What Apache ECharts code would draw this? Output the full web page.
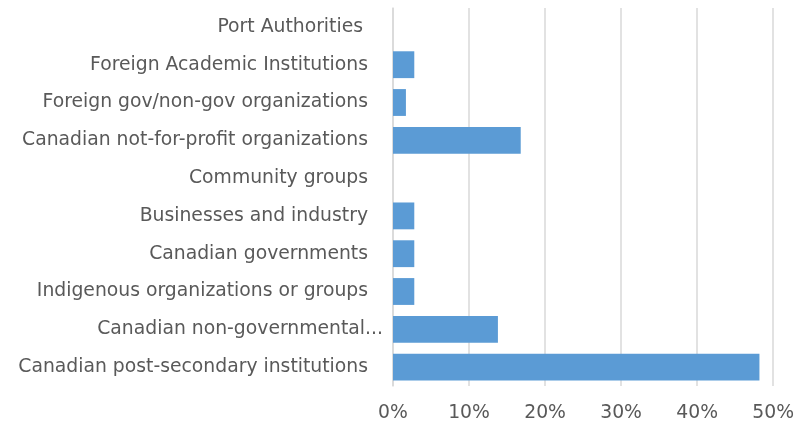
<!DOCTYPE html>
<html>
<head>
<meta charset="utf-8">
<script src="https://cdn.jsdelivr.net/npm/echarts@6/dist/echarts.min.js"></script>
<style>
html,body{margin:0;padding:0;background:#fff;}
#chart{width:797px;height:426px;}
</style>
</head>
<body>
<div id="chart"></div>
<script>
// Categories listed bottom to top
const categories = [
  "Canadian post-secondary institutions",
  "Canadian non-governmental...",
  "Indigenous organizations or groups",
  "Canadian governments",
  "Businesses and industry",
  "Community groups",
  "Canadian not-for-profit organizations",
  "Foreign gov/non-gov organizations",
  "Foreign Academic Institutions",
  "Port Authorities"
];
const values = [48.2, 13.8, 2.8, 2.8, 2.8, 0, 16.8, 1.7, 2.8, 0];
const xTicks = [0, 10, 20, 30, 40, 50];

const FONT = 'DejaVu Sans';
const FS = 18.8;
const chart = echarts.init(document.getElementById('chart'));
chart.setOption({
  animation: false,
  grid: { left: 393, right: 23, top: 8, bottom: 40, containLabel: false },
  xAxis: {
    type: 'value',
    min: xTicks[0],
    max: xTicks[xTicks.length - 1],
    interval: 10,
    axisLine: { show: false },
    axisTick: { show: false },
    splitLine: { show: true, lineStyle: { color: '#d9d9d9', width: 1.5 } },
    axisLabel: {
      formatter: '{value}%',
      color: '#595959',
      fontFamily: FONT,
      fontSize: FS,
      margin: 18
    }
  },
  yAxis: {
    type: 'category',
    data: categories,
    axisLine: { show: true, lineStyle: { color: '#d9d9d9', width: 1.5 } },
    axisTick: { show: false },
    axisLabel: {
      color: '#595959',
      fontFamily: FONT,
      fontSize: FS,
      margin: 10,
      formatter: function (v) {
        if (v.endsWith('...')) return '{t|' + v + '}';
        if (v === 'Port Authorities') return '{p|' + v + '}';
        return '{n|' + v + '}';
      },
      rich: {
        n: { color: '#595959', fontFamily: FONT, fontSize: FS, padding: [0, 15, 0, 0] },
        p: { color: '#595959', fontFamily: FONT, fontSize: FS, padding: [0, 20, 0, 0] },
        t: { color: '#595959', fontFamily: FONT, fontSize: FS, padding: [0, 0, 0, 0] }
      }
    }
  },
  series: [{
    type: 'bar',
    data: values,
    barCategoryGap: '29%',
    itemStyle: { color: '#5B9BD5' }
  }]
});
</script>
</body>
</html>
